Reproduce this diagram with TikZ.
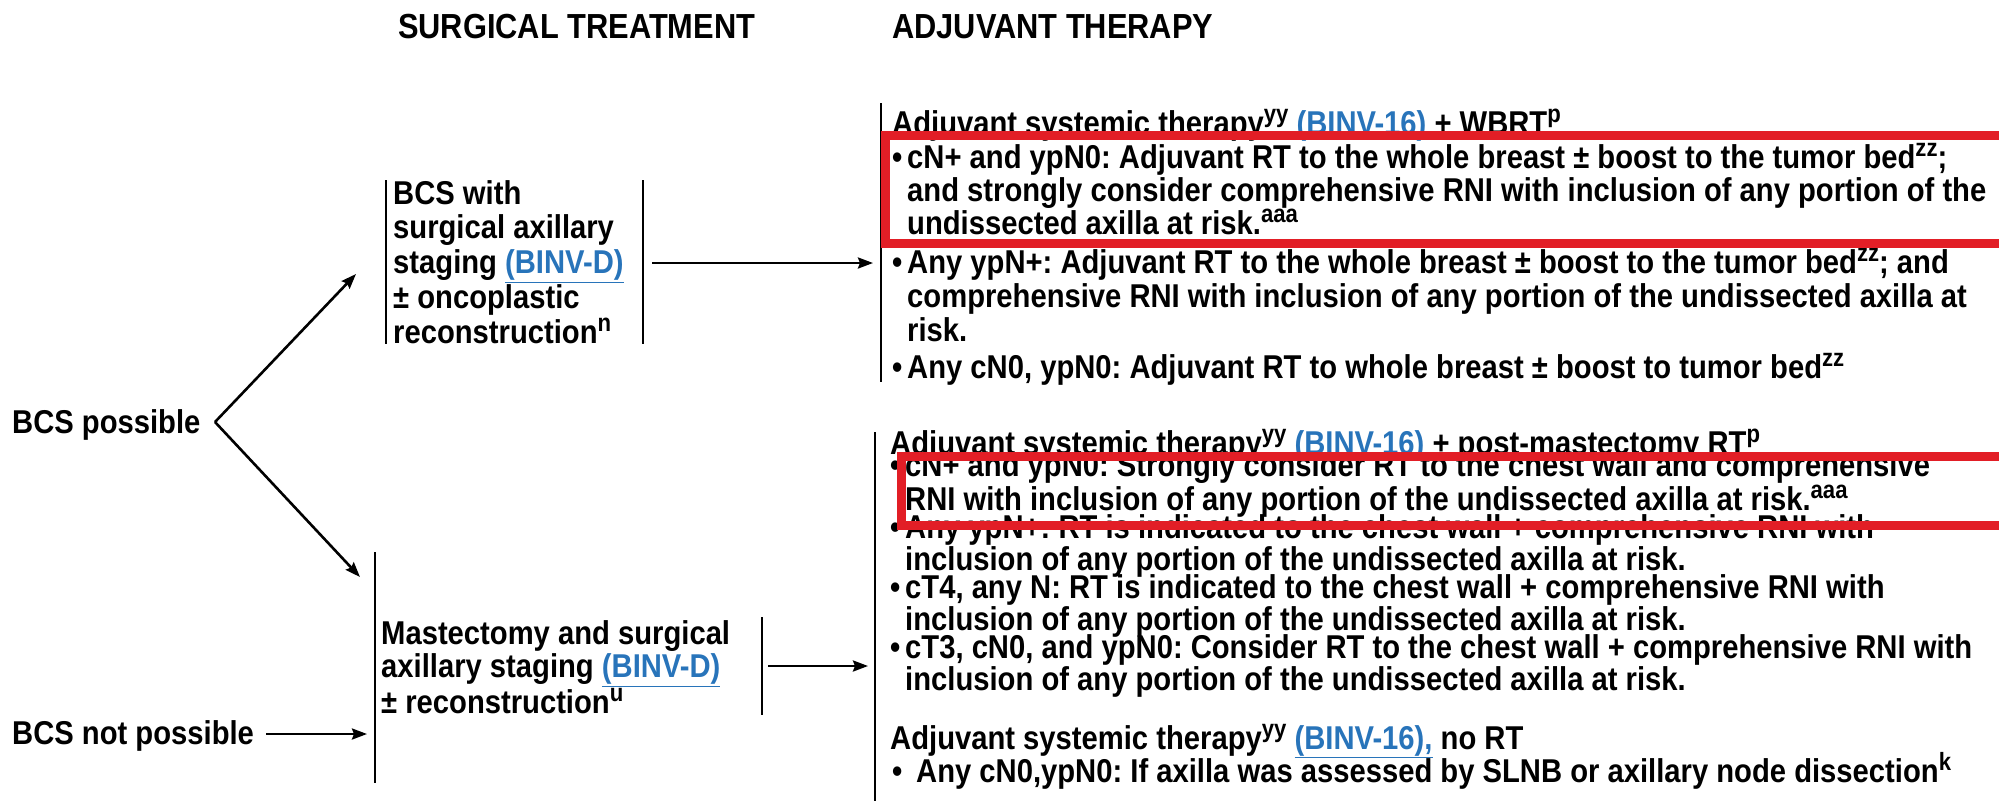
\documentclass[tikz,border=0pt]{standalone}
\usepackage{fontspec}
\setmainfont{Liberation Sans}[FakeStretch=0.885]
\usetikzlibrary{arrows.meta}
\definecolor{linkblue}{RGB}{40,116,186}
\definecolor{boxred}{RGB}{226,30,38}
\newcommand{\lnk}[1]{\textcolor{linkblue}{#1}}
\newcommand{\ulnk}[1]{\textcolor{linkblue}{\underline{#1}}}
\newcommand{\bul}{\makebox[15pt][l]{•}}
\newcommand{\ind}{\hspace*{15pt}}
\newcommand{\sups}[1]{\raisebox{12pt}{\fontsize{25}{25}\selectfont #1}}
\frenchspacing
\begin{document}
\begin{tikzpicture}[x=1pt,y=-1pt,
  txt/.style={font=\bfseries\fontsize{33}{#1}\selectfont\frenchspacing,inner sep=0pt,align=left,anchor=base west},
  txt/.default=34,
  head/.style={font=\bfseries\fontsize{34.8}{36}\selectfont,inner sep=0pt,anchor=base west},
  bar/.style={line width=2.6pt},
  arr/.style={line width=2.6pt,-{Stealth[length=15pt,width=11pt,inset=2pt]}},
  redbox/.style={draw=boxred,line width=9pt}]
\clip (0,0) rectangle (1999,801);

\node[head] (surg) at (398,38) {SURGICAL TREATMENT};
\node[head] (adjt) at (892,38) {ADJUVANT THERAPY};

\node[txt] (bcsp) at (12,433) {BCS possible};
\node[txt] (bcsn) at (12,744) {BCS not possible};
\node[txt=34.75] (bcs) at (393,343) {BCS with\\surgical axillary\\staging \ulnk{(BINV-D)}\\± oncoplastic\\reconstruction\sups{n}};
\node[txt=33.5] (mast) at (381,713) {Mastectomy and surgical\\axillary staging \ulnk{(BINV-D)}\\± reconstruction\sups{u}};

\draw[bar] (386,180) -- (386,344) (643,180) -- (643,344);
\draw[bar] (375,552) -- (375,783) (762,617) -- (762,715);
\draw[bar] (881,103) -- (881,382);
\draw[bar] (875,432) -- (875,801);

\coordinate (fork) at (215,422);
\coordinate (bcsin) at (356,274);
\coordinate (mastin) at (360,577);
\coordinate (nobcs) at (266,734);
\coordinate (nobcsin) at (367,734);
\coordinate (bcsout) at (652,263);
\coordinate (wbin) at (873,263);
\coordinate (mastout) at (768,666);
\coordinate (pmin) at (868,666);
\draw[arr] (fork) -- (bcsin);
\draw[arr] (fork) -- (mastin);
\draw[arr] (nobcs) -- (nobcsin);
\draw[arr] (bcsout) -- (wbin);
\draw[arr] (mastout) -- (pmin);

\node[txt] (wbrt) at (892,134) {Adjuvant systemic therapy\sups{yy} \lnk{(BINV-16)} + WBRT\sups{p}};
\node[txt=33] (wb1) at (892,234) {\bul cN+ and ypN0: Adjuvant RT to the whole breast ± boost to the tumor bed\sups{zz};\\
  \ind and strongly consider comprehensive RNI with inclusion of any portion of the\\
  \ind undissected axilla at risk.\sups{aaa}};
\node[txt=34] (wb2) at (892,341) {\bul Any ypN+: Adjuvant RT to the whole breast ± boost to the tumor bed\sups{zz}; and\\
  \ind comprehensive RNI with inclusion of any portion of the undissected axilla at\\
  \ind risk.};
\node[txt] (wb3) at (892,378) {\bul Any cN0, ypN0: Adjuvant RT to whole breast ± boost to tumor bed\sups{zz}};

\node[txt] (pmrt) at (890,454) {Adjuvant systemic therapy\sups{yy} \lnk{(BINV-16)} + post-mastectomy RT\sups{p}};
\node[txt=26] (pm1) at (890,510) {\bul cN+ and ypN0: Strongly consider RT to the chest wall and comprehensive\\
  \ind RNI with inclusion of any portion of the undissected axilla at risk.\sups{aaa}};
\node[txt=26] (pm2) at (890,570) {\bul Any ypN+: RT is indicated to the chest wall + comprehensive RNI with\\
  \ind inclusion of any portion of the undissected axilla at risk.};
\node[txt=26] (pm3) at (890,630) {\bul cT4, any N: RT is indicated to the chest wall + comprehensive RNI with\\
  \ind inclusion of any portion of the undissected axilla at risk.};
\node[txt=26] (pm4) at (890,690) {\bul cT3, cN0, and ypN0: Consider RT to the chest wall + comprehensive RNI with\\
  \ind inclusion of any portion of the undissected axilla at risk.};
\node[txt] (nort) at (890,749) {Adjuvant systemic therapy\sups{yy} \ulnk{(BINV-16),} no RT};
\node[txt] (nort1) at (892,782) {\makebox[24pt][l]{•}Any cN0,ypN0: If axilla was assessed by SLNB or axillary node dissection\sups{k}};

\draw[redbox] (885,135) rectangle (2010,243);
\draw[redbox] (901,456) rectangle (2010,525);
\end{tikzpicture}
\end{document}
